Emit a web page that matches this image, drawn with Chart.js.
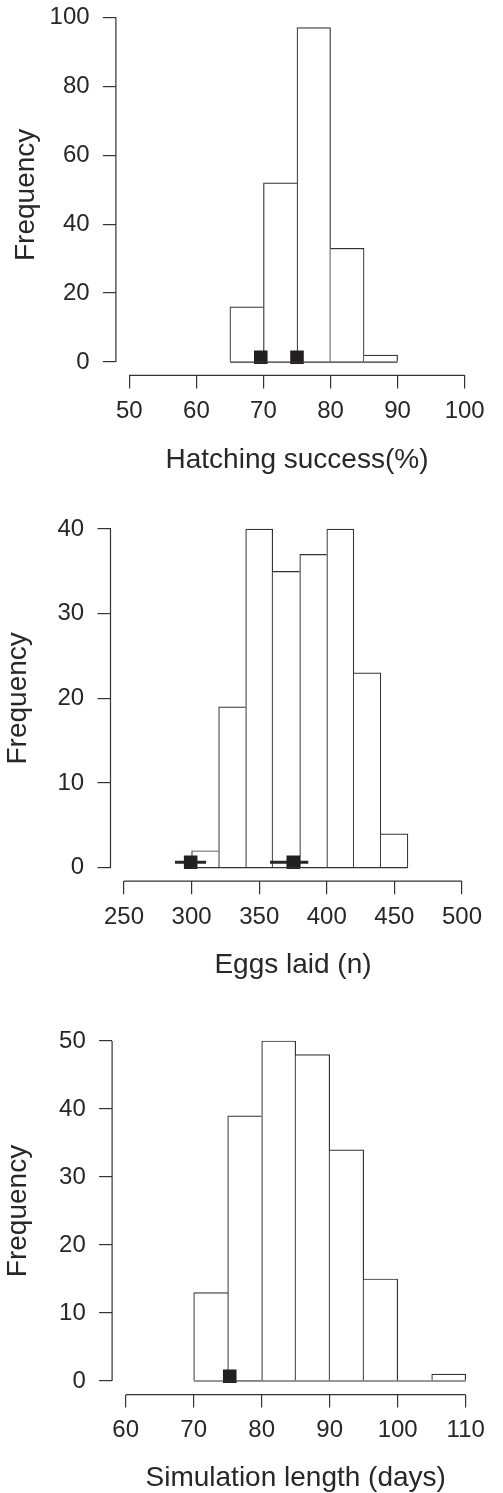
<!DOCTYPE html>
<html><head><meta charset="utf-8">
<script src="https://cdn.jsdelivr.net/npm/chart.js@4.4.0/dist/chart.umd.min.js"></script>
<style>
html,body{margin:0;padding:0;background:#fff;overflow:hidden;width:503px;height:1493px;position:relative}
canvas{position:absolute;left:0}
</style></head><body>
<canvas id="c1" width="503" height="490" style="top:0px"></canvas>
<canvas id="c2" width="503" height="500" style="top:490px"></canvas>
<canvas id="c3" width="503" height="510" style="top:990px"></canvas>
<script>
// ---- Panel 1: Hatching success ----
const hatchBinStarts = [65, 70, 75, 80, 85];
const hatchBinWidth = 5;
const hatchCounts = [16, 52, 97, 33, 2];
const hatchMarkers = [{x: 69.6, y: 1.4}, {x: 75.0, y: 1.4}];
const hatchXTicks = [50, 60, 70, 80, 90, 100];
const hatchYTicks = [0, 20, 40, 60, 80, 100];

// ---- Panel 2: Eggs laid ----
const eggBinStarts = [300, 320, 340, 360, 380, 400, 420, 440];
const eggBinWidth = 20;
const eggCounts = [2, 19, 40, 35, 37, 40, 23, 4];
const eggMarkers = [{x: 299.3, y: 0.64}, {x: 375.2, y: 0.64}];
const eggErrLow = [287.7, 358.0];
const eggErrHigh = [310.7, 386.3];
const eggXTicks = [250, 300, 350, 400, 450, 500];
const eggYTicks = [0, 10, 20, 30, 40];

// ---- Panel 3: Simulation length ----
const simBinStarts = [70, 75, 80, 85, 90, 95, 100, 105];
const simBinWidth = 5;
const simCounts = [13, 39, 50, 48, 34, 15, 0, 1];
const simMarkers = [{x: 75.3, y: 0.69}];
const simXTicks = [60, 70, 80, 90, 100, 110];
const simYTicks = [0, 10, 20, 30, 40, 50];

const INK = '#2a2627';
const LINE = '#333333';
const FONT = "'Liberation Sans', Arial, Helvetica, sans-serif";

const rAxes = {
  id: 'rAxes',
  afterDatasetsDraw(chart, args, o) {
    const ctx = chart.ctx, xs = chart.scales.x, ys = chart.scales.y;
    const ca = chart.chartArea;
    ctx.save();
    ctx.strokeStyle = LINE;
    ctx.lineWidth = 1.2;
    const y0 = ys.getPixelForValue(0);
    ctx.beginPath();
    ctx.moveTo(xs.getPixelForValue(o.baseFrom), y0);
    ctx.lineTo(xs.getPixelForValue(o.baseTo), y0);
    ctx.stroke();
    const yt = ys.ticks;
    ctx.beginPath();
    ctx.moveTo(ca.left, ys.getPixelForValue(yt[0].value));
    ctx.lineTo(ca.left, ys.getPixelForValue(yt[yt.length - 1].value));
    ctx.stroke();
    const xt = xs.ticks;
    ctx.beginPath();
    ctx.moveTo(xs.getPixelForValue(xt[0].value), ca.bottom);
    ctx.lineTo(xs.getPixelForValue(xt[xt.length - 1].value), ca.bottom);
    ctx.stroke();
    ctx.restore();
  }
};

function makeChart(id, p) {
  const xMin = p.xTicks[0], xMax = p.xTicks[p.xTicks.length - 1];
  const yMax = Math.max(...p.counts);
  const xe = 0.04 * (xMax - xMin), ye = 0.04 * yMax;
  const counts = p.counts;
  const datasets = [{
    type: 'bar',
    order: 3,
    data: p.binStarts.map((s, i) => ({x: s + p.binWidth / 2, y: counts[i]})),
    backgroundColor: '#ffffff',
    borderColor: LINE,
    borderSkipped: false,
    barPercentage: 1,
    categoryPercentage: 1,
    borderWidth: (c) => {
      const i = c.dataIndex, h = counts[i];
      const prev = i > 0 ? counts[i - 1] : -1;
      const next = i < counts.length - 1 ? counts[i + 1] : -1;
      return {top: 1.2, bottom: 0, left: prev <= h ? 1.2 : 0, right: next < h ? 1.2 : 0};
    }
  }];
  (p.errLow || []).forEach((lo, k) => {
    datasets.push({
      type: 'line', order: 2,
      data: [{x: lo, y: p.markers[k].y}, {x: p.errHigh[k], y: p.markers[k].y}],
      borderColor: INK, borderWidth: 3, pointRadius: 0, fill: false
    });
  });
  datasets.push({
    type: 'scatter', order: 1,
    data: p.markers,
    pointStyle: 'rect', pointRadius: 9.6,
    backgroundColor: '#231f20', borderWidth: 0
  });
  return new Chart(document.getElementById(id), {
    type: 'bar',
    data: {datasets},
    plugins: [rAxes],
    options: {
      responsive: false, animation: false, devicePixelRatio: 1,
      layout: {padding: {top: p.padTop, right: p.padRight, left: 0, bottom: 0}},
      plugins: {
        legend: {display: false}, tooltip: {enabled: false},
        rAxes: {baseFrom: p.binStarts[0], baseTo: p.binStarts[p.binStarts.length - 1] + p.binWidth}
      },
      scales: {
        x: {
          type: 'linear', position: 'bottom', offset: false,
          min: xMin - xe, max: xMax + xe,
          afterBuildTicks: (s) => { s.ticks = p.xTicks.map(v => ({value: v})); },
          afterFit: (s) => { s.height = p.xHeight; s.paddingLeft = 0; s.paddingRight = 0; },
          grid: {display: true, offset: false, drawOnChartArea: false, drawTicks: true, tickLength: 13, color: LINE, lineWidth: 1.2},
          border: {display: false},
          ticks: {color: INK, font: {family: FONT, size: 24}, padding: 8.6, autoSkip: false, maxRotation: 0},
          title: {display: true, text: p.xTitle, color: INK, font: {family: FONT, size: 28}, padding: {top: 0, bottom: p.xTitlePad}}
        },
        y: {
          type: 'linear', position: 'left',
          min: -ye, max: yMax + ye,
          afterBuildTicks: (s) => { s.ticks = p.yTicks.map(v => ({value: v})); },
          afterFit: (s) => { s.width = p.left; s.paddingTop = 0; s.paddingBottom = 0; },
          grid: {display: true, drawOnChartArea: false, drawTicks: true, tickLength: 13, color: LINE, lineWidth: 1.2},
          border: {display: false},
          ticks: {color: INK, font: {family: FONT, size: 24}, padding: 13.3, autoSkip: false},
          title: {display: true, text: 'Frequency', color: INK, font: {family: FONT, size: 28}, padding: {top: p.yTitlePad, bottom: 0}}
        }
      }
    }
  });
}

makeChart('c1', {
  binStarts: hatchBinStarts, binWidth: hatchBinWidth, counts: hatchCounts,
  markers: hatchMarkers, xTicks: hatchXTicks, yTicks: hatchYTicks,
  xTitle: 'Hatching success(%)',
  padTop: 14.3, padRight: 24.9, left: 115.9, xHeight: 114.6, xTitlePad: 12.9, yTitlePad: 9.2
});
makeChart('c2', {
  binStarts: eggBinStarts, binWidth: eggBinWidth, counts: eggCounts,
  markers: eggMarkers, errLow: eggErrLow, errHigh: eggErrHigh,
  xTicks: eggXTicks, yTicks: eggYTicks,
  xTitle: 'Eggs laid (n)',
  padTop: 25.5, padRight: 27.5, left: 110.5, xHeight: 108.8, xTitlePad: 7.9, yTitlePad: 1.2
});
makeChart('c3', {
  binStarts: simBinStarts, binWidth: simBinWidth, counts: simCounts,
  markers: simMarkers, xTicks: simXTicks, yTicks: simYTicks,
  xTitle: 'Simulation length (days)',
  padTop: 37.4, padRight: 23.7, left: 112.1, xHeight: 105.4, xTitlePad: 4.6, yTitlePad: 1.2
});
</script>
</body></html>
